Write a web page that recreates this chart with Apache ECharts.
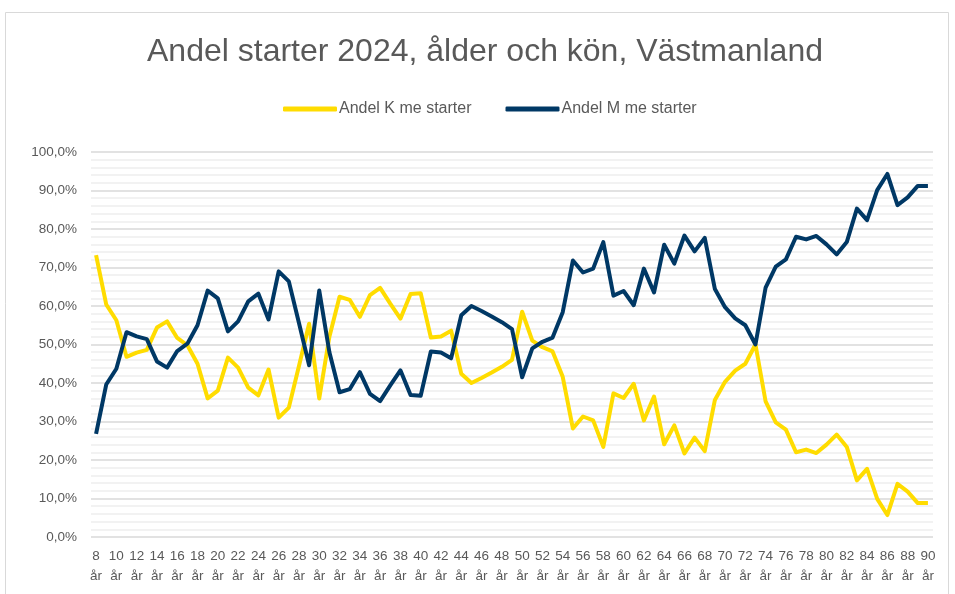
<!DOCTYPE html>
<html>
<head>
<meta charset="utf-8">
<script src="https://cdn.jsdelivr.net/npm/echarts@6/dist/echarts.min.js"></script>
<style>
  html, body { margin: 0; padding: 0; background: #fff; }
  #main { width: 955px; height: 594px; }
</style>
</head>
<body>
<div id="main"></div>
<script>
// ages 8..90
var ages = [];
for (var a = 8; a <= 90; a++) ages.push(a + ' år');

var andelK = [
  73.2, 60.4, 56.3, 46.8, 47.9, 48.6, 54.4, 56.0, 51.7, 49.8,
  45.0, 36.0, 38.0, 46.6, 44.0, 38.8, 36.8, 43.5, 31.0, 33.6,
  44.4, 55.4, 36.0, 52.0, 62.4, 61.6, 57.2, 62.8, 64.7, 60.6,
  56.7, 63.1, 63.3, 51.8, 52.1, 53.6, 42.4, 40.0, 41.3, 42.7,
  44.2, 46.0, 58.5, 51.0, 49.3, 48.2, 41.6, 28.2, 31.3, 30.3,
  23.4, 37.3, 36.1, 39.8, 30.3, 36.5, 24.1, 29.0, 21.7, 25.8,
  22.3, 35.6, 40.3, 43.2, 45.0, 50.0, 35.2, 29.8, 27.9, 22.0,
  22.7, 21.8, 24.0, 26.6, 23.4, 14.7, 17.7, 9.9, 5.7, 13.8,
  11.8, 8.8, 8.8
];

var andelM = [
  26.8, 39.6, 43.7, 53.2, 52.1, 51.4, 45.6, 44.0, 48.3, 50.2,
  55.0, 64.0, 62.0, 53.4, 56.0, 61.2, 63.2, 56.5, 69.0, 66.4,
  55.6, 44.6, 64.0, 48.0, 37.6, 38.4, 42.8, 37.2, 35.3, 39.4,
  43.3, 36.9, 36.7, 48.2, 47.9, 46.4, 57.6, 60.0, 58.7, 57.3,
  55.8, 54.0, 41.5, 49.0, 50.7, 51.8, 58.4, 71.8, 68.7, 69.7,
  76.6, 62.7, 63.9, 60.2, 69.7, 63.5, 75.9, 71.0, 78.3, 74.2,
  77.7, 64.4, 59.7, 56.8, 55.0, 50.0, 64.8, 70.2, 72.1, 78.0,
  77.3, 78.2, 76.0, 73.4, 76.6, 85.3, 82.3, 90.1, 94.3, 86.2,
  88.2, 91.2, 91.2
];

var chart = echarts.init(document.getElementById('main'));
var textColor = '#595959';
var font = '"Liberation Sans", Arial, sans-serif';

var option = {
  backgroundColor: '#fff',
  animation: false,
  title: {
    text: 'Andel starter 2024, ålder och kön, Västmanland',
    left: 142,
    top: 31,
    textStyle: { color: textColor, fontSize: 32, fontWeight: 'normal', fontFamily: font }
  },
  legend: {
    data: ['Andel K me starter', 'Andel M me starter'],
    top: 96,
    left: 278,
    icon: 'roundRect',
    itemWidth: 54,
    itemHeight: 5,
    itemGap: 34,
    textStyle: { color: textColor, fontSize: 16, fontFamily: font, padding: [0, 0, 0, -3] }
  },
  graphic: [{
    type: 'rect',
    shape: { x: 5.5, y: 12.5, width: 943, height: 600 },
    style: { fill: 'none', stroke: '#d9d9d9', lineWidth: 1 },
    silent: true
  }],
  grid: { left: 91, right: 22, top: 152, bottom: 57, containLabel: false },
  xAxis: {
    type: 'category',
    data: ages,
    boundaryGap: true,
    axisLine: { show: false },
    axisTick: { show: false },
    axisLabel: {
      interval: 1,
      color: textColor,
      fontSize: 13.5,
      fontFamily: font,
      margin: 9,
      lineHeight: 20,
      formatter: function (v) { return v.replace(' ', '\n'); }
    }
  },
  yAxis: {
    type: 'value',
    min: 0,
    max: 100,
    interval: 10,
    axisLine: { show: false },
    axisTick: { show: false },
    axisLabel: {
      color: textColor,
      fontSize: 13.5,
      fontFamily: font,
      margin: 14,
      formatter: function (v) { return v.toFixed(1).replace('.', ',') + '%'; }
    },
    splitLine: { lineStyle: { color: '#d9d9d9', width: 1.5 } },
    minorTick: { show: false, splitNumber: 5 },
    minorSplitLine: { show: true, lineStyle: { color: '#eeeeee', width: 1.5 } }
  },
  series: [{
    name: 'Andel K me starter',
    type: 'line',
    data: andelK,
    showSymbol: false,
    symbol: 'none',
    color: '#FFDC00',
    lineStyle: { width: 4, color: '#FFDC00', join: 'round' }
  }, {
    name: 'Andel M me starter',
    type: 'line',
    data: andelM,
    showSymbol: false,
    symbol: 'none',
    color: '#003865',
    lineStyle: { width: 4, color: '#003865', join: 'round' }
  }]
};

chart.setOption(option);
</script>
</body>
</html>
